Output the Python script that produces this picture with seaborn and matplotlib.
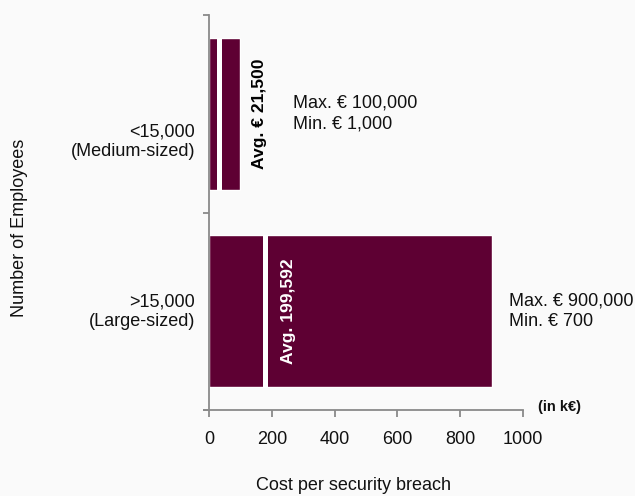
import matplotlib
matplotlib.use("Agg")
import matplotlib.pyplot as plt
import seaborn as sns
import pandas as pd
import numpy as np

categories = ["<15,000\n(Medium-sized)", ">15,000\n(Large-sized)"]
max_cost = [100, 900]          # in k€
min_cost = [1, 0.7]            # in k€
avg_marker = [33, 177]         # white marker position as drawn (k€)
avg_labels = ["Avg. € 21,500", "Avg. 199,592"]
range_labels = ["Max. € 100,000\nMin. € 1,000", "Max. € 900,000\nMin. € 700"]
x_ticks = [0, 200, 400, 600, 800, 1000]

sns.set_theme(style="white")
plt.rcParams["font.family"] = ["Liberation Sans", "DejaVu Sans"]

bg = "#fafafa"
bar_color = "#5e0033"
spine_color = "#8a8a8a"
txt = "#111111"

fig = plt.figure(figsize=(6.35, 4.96), dpi=100, facecolor=bg)
ax = fig.add_axes([204/635, 1 - 410/496, 319/635, 395/496])
ax.set_facecolor(bg)

df = pd.DataFrame({"cat": categories, "max": max_cost})
sns.barplot(data=df, x="max", y="cat", orient="h", color=bar_color,
            saturation=1, width=0.772, ax=ax)

for i in range(len(categories)):
    ax.vlines(avg_marker[i], i - 0.386, i + 0.386, color="white", lw=3.6)

ax.text(162, 0, avg_labels[0], rotation=90, ha="center", va="center",
        fontsize=12.6, fontweight="bold", color="black")
ax.text(252, 1, avg_labels[1], rotation=90, ha="center", va="center",
        fontsize=12.6, fontweight="bold", color="white")
ax.text(268, 0, range_labels[0], ha="left", va="center", fontsize=13,
        linespacing=1.3, color=txt)
ax.text(955, 1, range_labels[1], ha="left", va="center", fontsize=13,
        linespacing=1.3, color=txt, clip_on=False)
ax.text(1.047, 0.008, "(in k€)", transform=ax.transAxes, ha="left", va="center",
        fontsize=10.5, fontweight="bold", color=txt)

ax.set_xlim(-16, 1000)
ax.set_ylim(1.5, -0.5)
ax.set_xticks(x_ticks)
ax.set_xticklabels([str(t) for t in x_ticks], fontsize=13, color=txt)
ax.tick_params(axis="x", bottom=True, direction="out", length=5, width=1.3,
               color=spine_color, pad=10)
# label anchors (slightly offset from bar centres, as in the original)
ax.set_yticks([0.124, 0.985])
ax.set_yticklabels(categories)
ax.tick_params(axis="y", which="major", left=True, length=0, pad=10,
               labelsize=13, labelcolor=txt)
for lab in ax.get_yticklabels():
    lab.set_horizontalalignment("right")
    lab.set_multialignment("center")
    lab.set_linespacing(0.82)
ax.set_yticks([-0.5, 0.5, 1.5], minor=True)
ax.tick_params(axis="y", which="minor", left=True, direction="out", length=4.5,
               width=1.3, color=spine_color)

for s in ["top", "right"]:
    ax.spines[s].set_visible(False)
for s in ["left", "bottom"]:
    ax.spines[s].set_color(spine_color)
    ax.spines[s].set_linewidth(1.3)
ax.spines["left"].set_position(("data", 0))

ax.set_xlabel("")
ax.set_ylabel("")
fig.text(354/635, 1 - 485/496, "Cost per security breach", ha="center",
         va="center", fontsize=13, color=txt)
fig.text(20/635, 1 - 228/496, "Number of Employees", rotation=90, ha="center",
         va="center", fontsize=13, color=txt)

fig.savefig("out.png", dpi=100, facecolor=bg)
